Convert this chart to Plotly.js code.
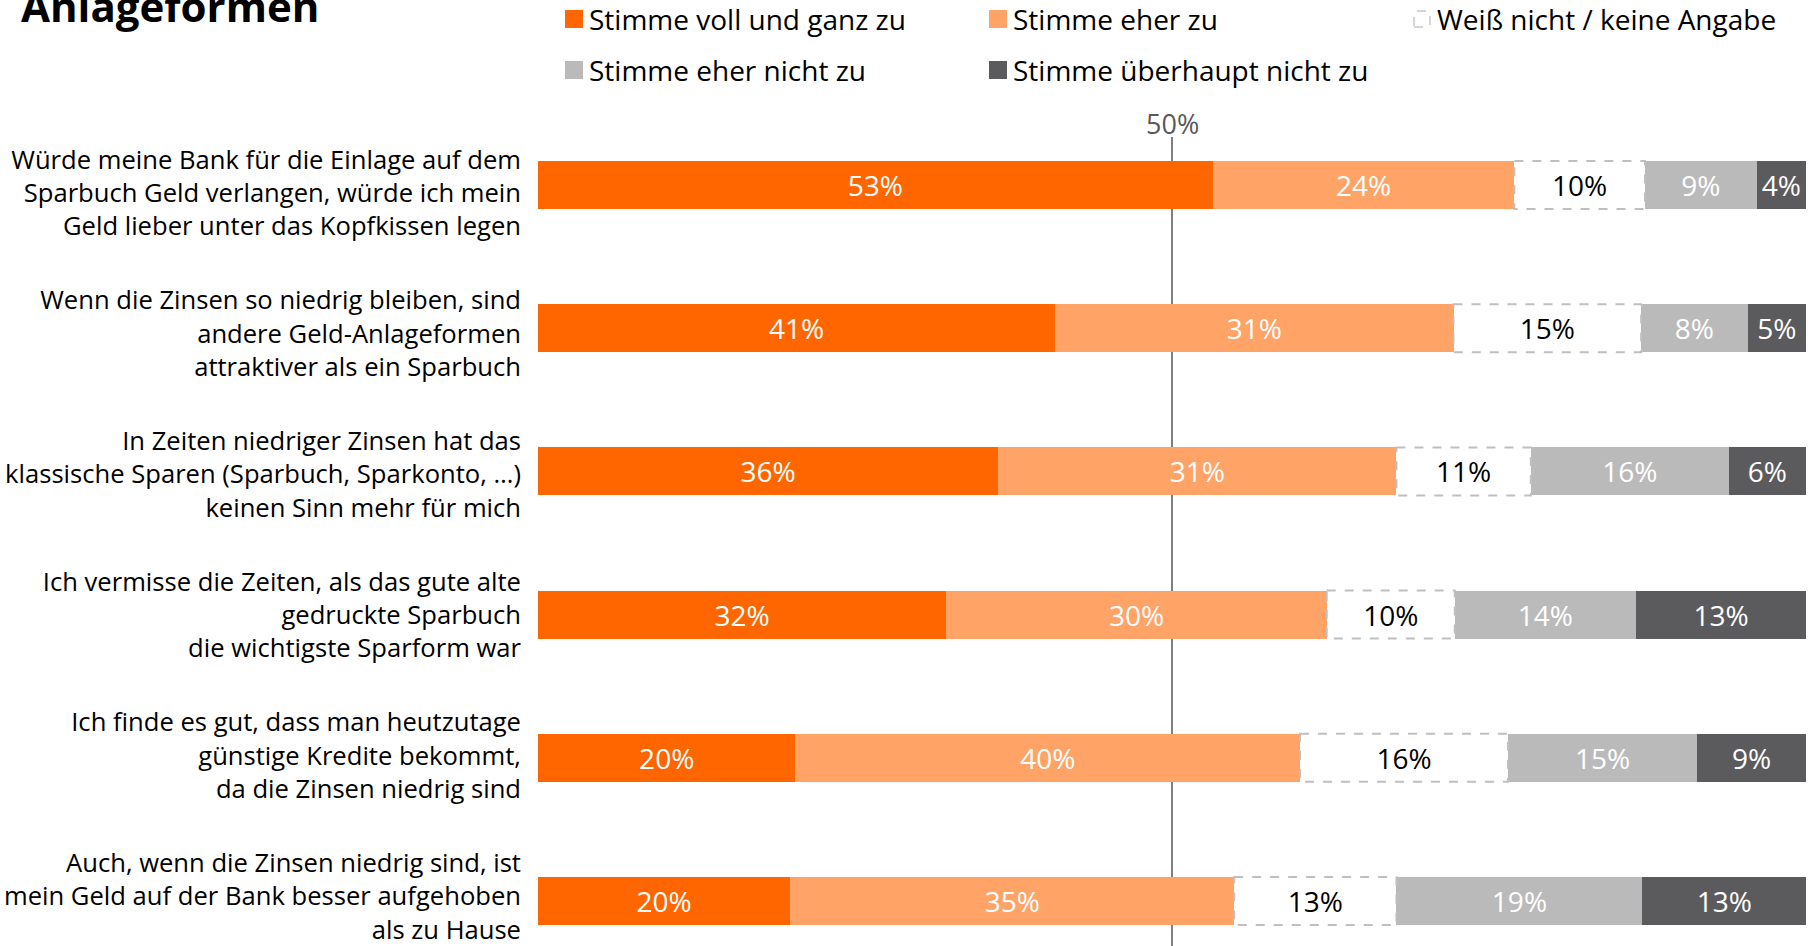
<!DOCTYPE html>
<html>
<head>
<meta charset="utf-8">
<script src="https://cdn.plot.ly/plotly-3.0.1.min.js"></script>
<style>html,body{margin:0;padding:0;background:#fff;}#chart{width:1820px;height:946px;}</style>
</head>
<body>
<div id="chart"></div>
<script>
// ---- Data ----
const categories = [
  "Würde meine Bank für die Einlage auf dem<br>Sparbuch Geld verlangen, würde ich mein<br>Geld lieber unter das Kopfkissen legen",
  "Wenn die Zinsen so niedrig bleiben, sind<br>andere Geld-Anlageformen<br>attraktiver als ein Sparbuch",
  "In Zeiten niedriger Zinsen hat das<br>klassische Sparen (Sparbuch, Sparkonto, …)<br>keinen Sinn mehr für mich",
  "Ich vermisse die Zeiten, als das gute alte<br>gedruckte Sparbuch<br>die wichtigste Sparform war",
  "Ich finde es gut, dass man heutzutage<br>günstige Kredite bekommt,<br>da die Zinsen niedrig sind",
  "Auch, wenn die Zinsen niedrig sind, ist<br>mein Geld auf der Bank besser aufgehoben<br>als zu Hause"
];
const seriesNames = [
  "Stimme voll und ganz zu",
  "Stimme eher zu",
  "Weiß nicht / keine Angabe",
  "Stimme eher nicht zu",
  "Stimme überhaupt nicht zu"
];
const stimmeVoll       = [53.2, 40.8, 36.3, 32.2, 20.3, 19.9];
const stimmeEher       = [23.8, 31.4, 31.4, 30.0, 39.8, 35.0];
const weissNicht       = [10.3, 14.8, 10.6, 10.1, 16.4, 12.8];
const stimmeEherNicht  = [8.8, 8.4, 15.6, 14.3, 14.9, 19.4];
const stimmeUeberhaupt = [3.9, 4.6, 6.1, 13.4, 8.6, 12.9];
const midline = 50;

// ---- Styles ----
const FONT = "Open Sans";
const colors = ["#FF6600", "#FFA366", "#FFFFFF", "#BABABA", "#5B5B5D"];
const textColors = ["#FFFFFF", "#FFFFFF", "#000000", "#FFFFFF", "#FFFFFF"];
const seriesValues = [stimmeVoll, stimmeEher, weissNicht, stimmeEherNicht, stimmeUeberhaupt];
const BARW = 0.335;

const W = 1820, H = 946;
const M = {l: 538, r: 14, t: 137, b: 0};
const PW = W - M.l - M.r, PH = H - M.t - M.b;
const px2x = px => (px - M.l) / PW;
const py2y = py => (H - py) / PH;

// bar rows: first centre at 185px, step 143.2px
const BAR_C0 = 185, BAR_STEP = 143.2;
// label rows: first centre at 193px, step 140.7px
const LAB_C0 = 193, LAB_STEP = 140.7;

const traces = seriesValues.map((vals, k) => ({
  type: "bar",
  orientation: "h",
  name: seriesNames[k],
  x: vals,
  y: categories,
  width: BARW,
  marker: {color: colors[k], line: {width: 0}},
  texttemplate: "%{x:.0f}%",
  textposition: "inside",
  insidetextanchor: "middle",
  textangle: 0,
  constraintext: "none",
  textfont: {family: FONT, size: 28, color: textColors[k]},
  hoverinfo: "skip"
}));
// invisible carrier for the category labels axis
traces.push({
  type: "bar", orientation: "h", x: categories.map(() => 0), y: categories,
  yaxis: "y2", marker: {opacity: 0}, hoverinfo: "skip", showlegend: false
});

const shapes = [];
// 50% reference line
shapes.push({type: "line", xref: "x", yref: "paper", x0: midline, x1: midline, y0: 0, y1: 1,
  line: {color: "#7F7F7F", width: 2}, layer: "below"});
// dashed outlines for "Weiß nicht"
categories.forEach((c, i) => {
  const x0 = stimmeVoll[i] + stimmeEher[i];
  shapes.push({type: "rect", xref: "x", yref: "y", x0: x0, x1: x0 + weissNicht[i],
    y0: i - BARW / 2, y1: i + BARW / 2,
    line: {color: "#BFBFBF", width: 2, dash: "dash"}, fillcolor: "rgba(0,0,0,0)", layer: "above"});
});

const annotations = [];
// Title (partially cut off at top)
annotations.push({xref: "paper", yref: "paper", x: px2x(19), y: py2y(6), xanchor: "left", yanchor: "middle",
  text: "<b>Anlageformen</b>", showarrow: false, font: {family: FONT, size: 42, color: "#000"}});
// 50% label
annotations.push({xref: "x", yref: "paper", x: midline, y: py2y(123), xanchor: "center", yanchor: "middle",
  text: "50%", showarrow: false, font: {family: FONT, size: 27, color: "#595959"}});

// Legend (custom layout: 3 per row)
const legPos = [
  {sx: 565, tx: 587, cy: 19},
  {sx: 989, tx: 1011, cy: 19},
  {sx: 1413, tx: 1435, cy: 19},
  {sx: 565, tx: 587, cy: 70},
  {sx: 989, tx: 1011, cy: 70}
];
seriesNames.forEach((n, k) => {
  const p = legPos[k];
  const sz = 18;
  if (k === 2) {
    shapes.push({type: "rect", xref: "paper", yref: "paper",
      x0: px2x(p.sx + 1), x1: px2x(p.sx + sz - 1), y0: py2y(p.cy + sz / 2 - 1), y1: py2y(p.cy - sz / 2 + 1),
      line: {color: "#C8C8C8", width: 1.5, dash: "dash"}, fillcolor: "#FFFFFF"});
  } else {
    shapes.push({type: "rect", xref: "paper", yref: "paper",
      x0: px2x(p.sx), x1: px2x(p.sx + sz), y0: py2y(p.cy + sz / 2), y1: py2y(p.cy - sz / 2),
      line: {width: 0}, fillcolor: colors[k]});
  }
  annotations.push({xref: "paper", yref: "paper", x: px2x(p.tx), y: py2y(p.cy), xanchor: "left", yanchor: "middle",
    text: n, showarrow: false, font: {family: FONT, size: 28, color: "#000"}});
});

const layout = {
  width: W, height: H,
  margin: M,
  paper_bgcolor: "#FFFFFF", plot_bgcolor: "#FFFFFF",
  barmode: "stack",
  showlegend: false,
  font: {family: FONT},
  uniformtext: {mode: "show", minsize: 28},
  xaxis: {range: [0, 100], visible: false, fixedrange: true},
  yaxis: {
    type: "category",
    categoryorder: "array", categoryarray: categories,
    range: [(H - BAR_C0) / BAR_STEP, (M.t - BAR_C0) / BAR_STEP],
    autorange: false,
    showgrid: false, zeroline: false, showline: false, ticks: "",
    showticklabels: false
  },
  yaxis2: {
    type: "category", overlaying: "y", side: "left", anchor: "x",
    categoryorder: "array", categoryarray: categories,
    range: [(H - LAB_C0) / LAB_STEP, (M.t - LAB_C0) / LAB_STEP],
    autorange: false,
    showgrid: false, zeroline: false, showline: false, ticks: "",
    ticklabelstandoff: 16,
    tickfont: {family: FONT, size: 25.6, color: "#000"}
  },
  shapes: shapes,
  annotations: annotations
};

Plotly.newPlot("chart", traces, layout, {displayModeBar: false, staticPlot: true});
</script>
</body>
</html>
